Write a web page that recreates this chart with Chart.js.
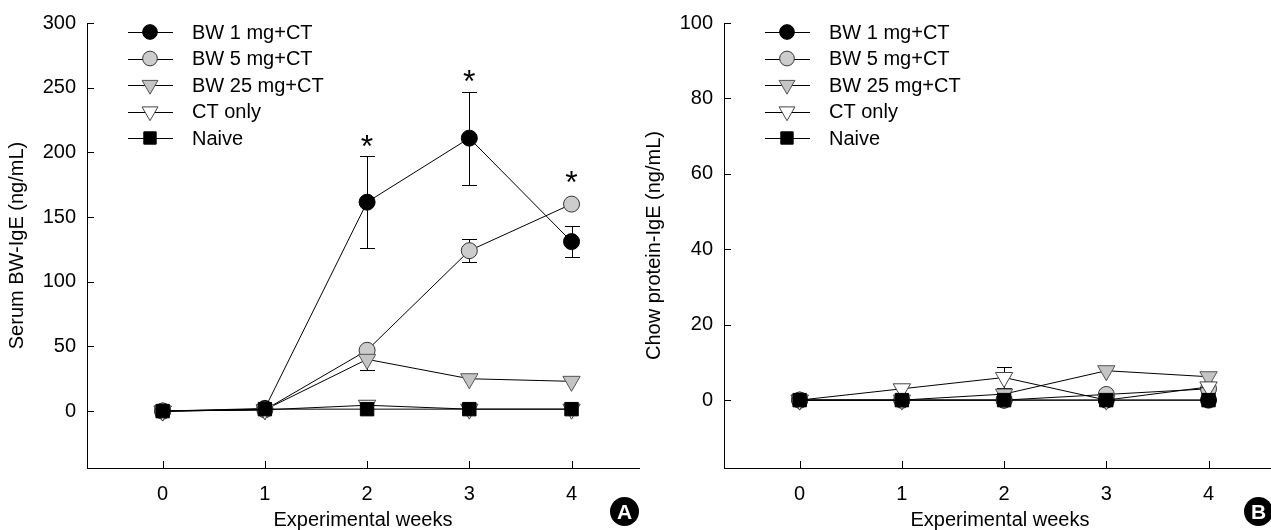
<!DOCTYPE html>
<html>
<head>
<meta charset="utf-8">
<script src="https://cdn.jsdelivr.net/npm/chart.js@4/dist/chart.umd.min.js"></script>
<style>
  html, body { margin: 0; padding: 0; background: #fff; overflow: hidden; width: 1271px; height: 530px; }
  canvas { position: absolute; top: 0; }
  #left { left: 0; }
  #right { left: 637px; }
  .badge {
    position: absolute; width: 29px; height: 29px; border-radius: 50%;
    background: #000; color: #fff; font: bold 21px "Liberation Sans", Arial, sans-serif;
    text-align: center; line-height: 29px;
  }
</style>
</head>
<body>
<canvas id="left" width="650" height="530"></canvas>
<canvas id="right" width="650" height="530"></canvas>
<div class="badge" style="left:610px; top:497px;">A</div>
<div class="badge" style="left:1244px; top:497px;">B</div>
<script>
// data
const weeks = [0, 1, 2, 3, 4];
const seriesNames = ['BW 1 mg+CT', 'BW 5 mg+CT', 'BW 25 mg+CT', 'CT only', 'Naive'];

const serumBW1 = [0, 2, 161.5, 211, 131];
const serumBW5 = [0, 1, 47, 124, 160];
const serumBW25 = [0, 1, 40, 25, 23];
const serumCT = [0, 1, 4.5, 1.5, 1.5];
const serumNaive = [0, 1.5, 1.5, 1.5, 1.5];
const serumErrBW1 = [0, 0, 35.5, 36, 12];
const serumErrBW5 = [0, 0, 0, 9, 0];
const serumErrBW25 = [0, 0, 8.5, 0, 0];
const serumStarWeeks = [2, 3, 4];
const serumStarValues = [209, 259, 181];
const serumTicks = [0, 50, 100, 150, 200, 250, 300];

const chowBW1 = [0, 0, 0, 0, 0];
const chowBW5 = [0, 0, 0, 1.5, 3];
const chowBW25 = [0, 0, 1.6, 7.8, 6.2];
const chowCT = [0, 3, 6, 0, 3.5];
const chowNaive = [0, 0, 0, 0, 0];
const chowErrCT = [0, 0, 2.8, 0, 0];
const chowTicks = [0, 20, 40, 60, 80, 100];

// marker styles, one per series
const markerStyles = [
  { pointStyle: 'circle', pointRadius: 8, pointRotation: 0, backgroundColor: '#000', borderColor: '#000' },
  { pointStyle: 'circle', pointRadius: 8, pointRotation: 0, backgroundColor: '#cccccc', borderColor: '#333' },
  { pointStyle: 'triangle', pointRadius: 10, pointRotation: 180, backgroundColor: '#c4c4c4', borderColor: '#555' },
  { pointStyle: 'triangle', pointRadius: 10, pointRotation: 180, backgroundColor: '#fff', borderColor: '#444' },
  { pointStyle: 'rect', pointRadius: 9.5, pointRotation: 0, backgroundColor: '#000', borderColor: '#000' }
];

const FONT = { family: "'Liberation Sans', Arial, sans-serif", size: 20 };

const panelExtras = {
  id: 'panelExtras',
  beforeDatasetsDraw(chart, args, opts) {
    const ctx = chart.ctx;
    const xs = chart.scales.x, ys = chart.scales.y;
    ctx.save();
    ctx.strokeStyle = '#000';
    ctx.lineWidth = 1;
    (opts.errors || []).forEach((errs, i) => {
      if (!errs) return;
      const vals = chart.data.datasets[i].data;
      errs.forEach((e, j) => {
        if (!e) return;
        const x = Math.round(xs.getPixelForValue(vals[j].x)) + 0.5;
        const yTop = Math.round(ys.getPixelForValue(vals[j].y + e)) + 0.5;
        const yBot = Math.round(ys.getPixelForValue(vals[j].y - e)) + 0.5;
        ctx.beginPath();
        ctx.moveTo(x, yTop); ctx.lineTo(x, yBot);
        ctx.moveTo(x - 7.5, yTop); ctx.lineTo(x + 7.5, yTop);
        ctx.moveTo(x - 7.5, yBot); ctx.lineTo(x + 7.5, yBot);
        ctx.stroke();
      });
    });
    ctx.restore();
  },
  afterDraw(chart, args, opts) {
    const ctx = chart.ctx;
    const xs = chart.scales.x, ys = chart.scales.y;
    const area = chart.chartArea;
    ctx.save();
    ctx.strokeStyle = '#000';
    ctx.lineWidth = 1;
    // inward tick marks
    ctx.beginPath();
    xs.ticks.forEach(t => {
      const x = Math.round(xs.getPixelForValue(t.value)) + 0.5;
      ctx.moveTo(x, area.bottom); ctx.lineTo(x, area.bottom - 7);
    });
    ys.ticks.forEach(t => {
      const y = Math.round(ys.getPixelForValue(t.value)) + 0.5;
      ctx.moveTo(area.left, y); ctx.lineTo(area.left + 7, y);
    });
    ctx.stroke();

    // legend: line with marker, then label
    ctx.font = `${FONT.size}px ${FONT.family}`;
    ctx.textBaseline = 'middle';
    chart.data.datasets.forEach((ds, i) => {
      const st = markerStyles[i];
      const y = 32 + i * 26.5;
      const x0 = area.left + 41, x1 = area.left + 86, xm = area.left + 63;
      ctx.strokeStyle = '#000';
      ctx.lineWidth = 1;
      ctx.beginPath();
      ctx.moveTo(x0, Math.round(y) + 0.5); ctx.lineTo(x1, Math.round(y) + 0.5);
      ctx.stroke();
      ctx.fillStyle = st.backgroundColor;
      ctx.strokeStyle = st.borderColor;
      Chart.helpers.drawPoint(ctx, {
        pointStyle: st.pointStyle,
        radius: st.pointRadius * 0.92,
        rotation: st.pointRotation,
        borderWidth: 1
      }, xm, y);
      ctx.fillStyle = '#000';
      ctx.fillText(ds.label, area.left + 105, y + 1);
    });

    // significance marks
    const starX = opts.starWeeks || [];
    const starY = opts.starValues || [];
    ctx.font = "32px 'Liberation Sans', Arial, sans-serif";
    ctx.textAlign = 'center';
    ctx.textBaseline = 'alphabetic';
    ctx.fillStyle = '#000';
    const m = ctx.measureText('*');
    starX.forEach((w, k) => {
      const cx = xs.getPixelForValue(w);
      const cy = ys.getPixelForValue(starY[k]);
      const base = cy - (m.actualBoundingBoxDescent - m.actualBoundingBoxAscent) / 2;
      ctx.fillText('*', cx, base);
    });
    ctx.restore();
  }
};

function makeDatasets(seriesList) {
  return seriesList.map((vals, i) => ({
    label: seriesNames[i],
    data: vals.map((v, j) => ({ x: weeks[j], y: v })),
    borderColor: '#000',
    backgroundColor: markerStyles[i].backgroundColor,
    borderWidth: 1,
    pointStyle: markerStyles[i].pointStyle,
    pointRadius: markerStyles[i].pointRadius,
    pointRotation: markerStyles[i].pointRotation,
    pointBorderWidth: 1,
    pointBorderColor: markerStyles[i].borderColor,
    pointBackgroundColor: markerStyles[i].backgroundColor,
    fill: false,
    tension: 0,
    // later series (Naive) sit on top
    order: seriesList.length - i
  }));
}

function makeChart(id, seriesList, yMin, yMax, yTicks, yTitle, extras) {
  return new Chart(document.getElementById(id), {
    type: 'line',
    data: { datasets: makeDatasets(seriesList) },
    options: {
      responsive: false,
      animation: false,
      devicePixelRatio: 1,
      layout: { padding: { top: 22, right: 7, bottom: 0, left: 0 } },
      plugins: {
        legend: { display: false },
        tooltip: { enabled: false },
        panelExtras: extras
      },
      scales: {
        x: {
          type: 'linear',
          min: -0.74,
          max: 4.66,
          afterBuildTicks: s => { s.ticks = weeks.map(v => ({ value: v })); },
          afterFit: s => { s.height = 62; },
          grid: { display: false, drawTicks: false },
          border: { display: true, color: '#000', width: 1 },
          ticks: { color: '#000', font: FONT, padding: 14, maxRotation: 0, autoSkip: false },
          title: { display: true, text: 'Experimental weeks', color: '#000', font: FONT, padding: { top: 0, bottom: -2 } }
        },
        y: {
          type: 'linear',
          min: yMin,
          max: yMax,
          afterBuildTicks: s => { s.ticks = yTicks.map(v => ({ value: v })); },
          afterFit: s => { s.width = 87; },
          grid: { display: false, drawTicks: false },
          border: { display: true, color: '#000', width: 1 },
          ticks: { color: '#000', font: FONT, padding: 11 },
          title: { display: true, text: yTitle, color: '#000', font: FONT, padding: { top: 5, bottom: 0 } }
        }
      }
    },
    plugins: [panelExtras]
  });
}

const leftChart = makeChart('left',
  [serumBW1, serumBW5, serumBW25, serumCT, serumNaive],
  -44, 300, serumTicks, 'Serum BW-IgE (ng/mL)',
  { errors: [serumErrBW1, serumErrBW5, serumErrBW25, null, null], starWeeks: serumStarWeeks, starValues: serumStarValues });

const rightChart = makeChart('right',
  [chowBW1, chowBW5, chowBW25, chowCT, chowNaive],
  -18, 100, chowTicks, 'Chow protein-IgE (ng/mL)',
  { errors: [null, null, null, chowErrCT, null], starWeeks: [], starValues: [] });
</script>
</body>
</html>
